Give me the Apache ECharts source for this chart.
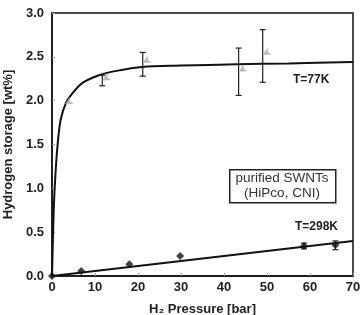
<!DOCTYPE html>
<html>
<head>
<meta charset="utf-8">
<script src="https://cdn.jsdelivr.net/npm/echarts@6/dist/echarts.min.js"></script>
<style>
    html, body { margin: 0; padding: 0; background: #fff; }
    #chart { width: 362px; height: 315px; }
</style>
</head>
<body>
<div id="chart"></div>
<script>
    // 77K measured points [pressure, wt%]
    var pts77 = [[3.0, 1.96], [11.7, 2.23], [21.1, 2.43], [43.4, 2.33], [49.0, 2.52]];
    // 77K error bars [pressure, low, high]
    var err77 = [[11.7, 2.17, 2.29], [21.1, 2.28, 2.55], [43.4, 2.06, 2.60], [49.0, 2.21, 2.81]];
    // 77K fitted curve
    var fit77 = [[0, 0], [0.4, 0.75], [0.86, 1.21], [1.4, 1.55], [2.0, 1.78], [3.2, 1.97], [4.7, 2.08],
        [7, 2.20], [10.9, 2.29], [15, 2.34], [21, 2.385], [30, 2.40], [43, 2.415], [55, 2.425], [70, 2.44]];

    // 298K measured points
    var pts298 = [[0, 0], [6.8, 0.057], [18.0, 0.133], [29.8, 0.228], [58.6, 0.342], [65.9, 0.354]];
    var err298 = [[58.6, 0.31, 0.375], [65.9, 0.30, 0.40]];
    var fit298 = [[0, 0], [70, 0.40]];

    var xTicks = [0, 10, 20, 30, 40, 50, 60, 70];
    var yTicks = [0, 0.5, 1.0, 1.5, 2.0, 2.5, 3.0];

    var font = 'Liberation Sans, Arial, sans-serif';

    // 误差线
    function errorBars(data) {
        return {
            type: 'custom',
            data: data,
            z: 3,
            renderItem: function (params, api) {
                var x = api.value(0);
                var lo = api.coord([x, api.value(1)]);
                var hi = api.coord([x, api.value(2)]);
                var cap = 3;
                var style = { stroke: '#222', lineWidth: 1.2 };
                return {
                    type: 'group',
                    children: [
                        { type: 'line', shape: { x1: lo[0], y1: lo[1], x2: hi[0], y2: hi[1] }, style: style },
                        { type: 'line', shape: { x1: lo[0] - cap, y1: lo[1], x2: lo[0] + cap, y2: lo[1] }, style: style },
                        { type: 'line', shape: { x1: hi[0] - cap, y1: hi[1], x2: hi[0] + cap, y2: hi[1] }, style: style }
                    ]
                };
            }
        };
    }

    var chart = echarts.init(document.getElementById('chart'));
    chart.setOption({
        animation: false,
        grid: {
            left: 52, right: 9, top: 13, bottom: 39,
            outerBoundsMode: 'none', containLabel: false,
            show: true, borderColor: '#111', borderWidth: 1.5
        },
        xAxis: {
            type: 'value', min: xTicks[0], max: xTicks[xTicks.length - 1], interval: 10,
            name: 'H₂ Pressure [bar]', nameLocation: 'middle', nameGap: 27,
            nameTextStyle: { fontFamily: font, fontWeight: 'bold', fontSize: 13, color: '#222' },
            axisLine: { lineStyle: { color: '#111', width: 1.5 } },
            axisTick: { inside: true, length: 3, lineStyle: { color: '#999' } },
            axisLabel: { margin: 5, fontFamily: font, fontWeight: 'bold', fontSize: 13, color: '#222' },
            splitLine: { show: false }
        },
        yAxis: {
            type: 'value', min: yTicks[0], max: yTicks[yTicks.length - 1], interval: 0.5,
            name: 'Hydrogen storage [wt%]', nameLocation: 'middle', nameGap: 31,
            nameTextStyle: { fontFamily: font, fontWeight: 'bold', fontSize: 13, color: '#222' },
            axisLine: { lineStyle: { color: '#111', width: 1.5 } },
            axisTick: { inside: true, length: 3, lineStyle: { color: '#999' } },
            axisLabel: {
                margin: 8, fontFamily: font, fontWeight: 'bold', fontSize: 13, color: '#222',
                formatter: function (v) { return v.toFixed(1); }
            },
            splitLine: { show: false }
        },
        graphic: [
            {
                type: 'text', left: 293, top: 74,
                style: { text: 'T=77K', fontFamily: font, fontWeight: 'bold', fontSize: 12, fill: '#222' }
            },
            {
                type: 'text', left: 295, top: 221,
                style: { text: 'T=298K', fontFamily: font, fontWeight: 'bold', fontSize: 12, fill: '#222' }
            },
            {
                type: 'rect', left: 229, top: 169,
                shape: { width: 106, height: 33 },
                style: { fill: '#fff', stroke: '#222', lineWidth: 1.5 }
            },
            {
                type: 'text', x: 282, y: 171, z: 10,
                style: {
                    text: 'purified SWNTs\n(HiPco, CNI)', fontFamily: font, fontSize: 13.5,
                    lineHeight: 15, align: 'center', verticalAlign: 'top', fill: '#333'
                }
            }
        ],
        series: [
            {
                type: 'line', data: fit77, smooth: 0.3, showSymbol: false, z: 2,
                lineStyle: { color: '#111', width: 2 }
            },
            {
                type: 'line', data: fit298, showSymbol: false, z: 2,
                lineStyle: { color: '#111', width: 2 }
            },
            errorBars(err77),
            errorBars(err298),
            {
                type: 'scatter', data: pts77, symbol: 'arrow', symbolSize: [6, 8], symbolRotate: 120, z: 4,
                itemStyle: { color: '#aaa' }
            },
            {
                type: 'scatter', data: pts298, symbol: 'diamond', symbolSize: 8, z: 4,
                itemStyle: { color: '#111' }
            }
        ]
    });
</script>
</body>
</html>
